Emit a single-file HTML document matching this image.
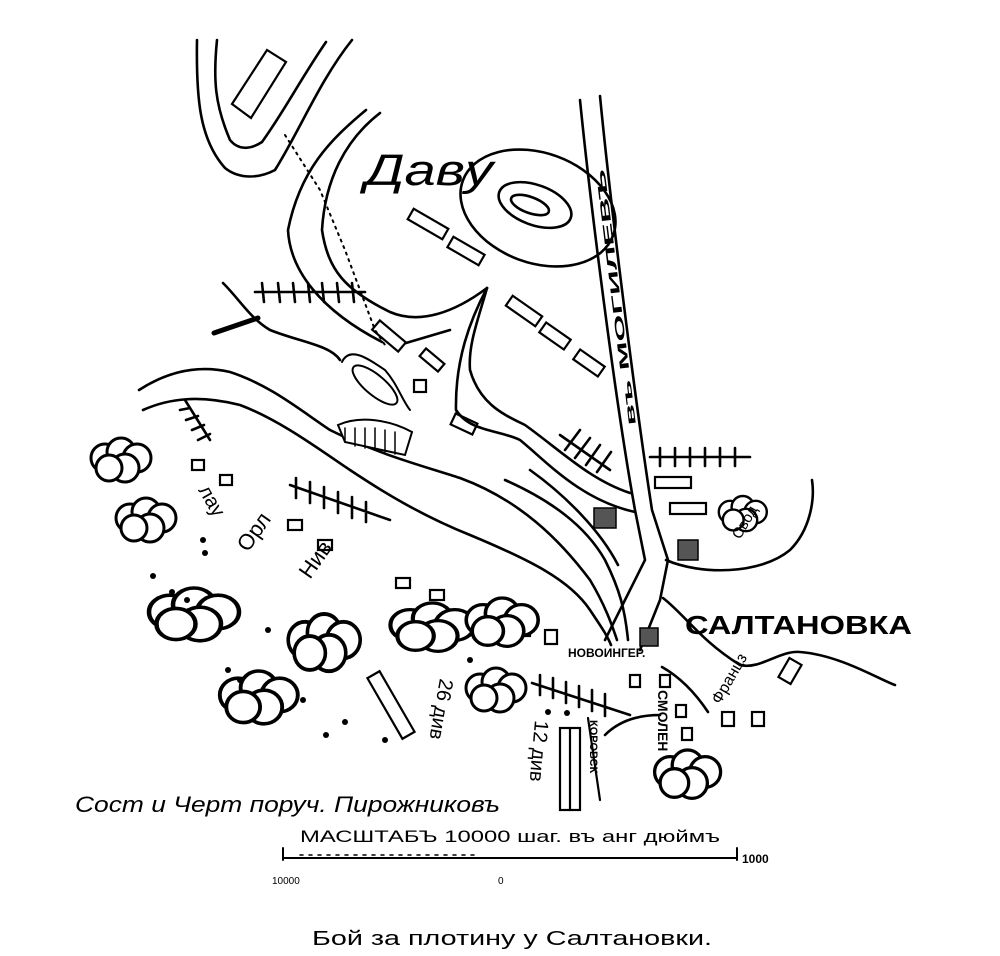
<!DOCTYPE html>
<html><head><meta charset="utf-8"><style>
html,body{margin:0;padding:0;background:#fff;}
svg{display:block}
text{font-family:"Liberation Sans",sans-serif;fill:#000}
</style></head><body>
<svg width="1000" height="956" viewBox="0 0 1000 956" xmlns="http://www.w3.org/2000/svg">
<defs>
<g id="c"><circle cx="0" cy="0" r="14"/><circle cx="16" cy="-6" r="14"/><circle cx="32" cy="0" r="14"/><circle cx="20" cy="10" r="14"/><circle cx="4" cy="10" r="13"/></g>
</defs>
<g fill="none" stroke="#000" stroke-width="2.6" stroke-linecap="round">
<path d="M197,40 C196,100 200,140 225,168 C240,180 260,178 275,170 C300,130 320,80 352,40"/>
<path d="M217,40 C213,80 215,105 230,140 C238,150 250,150 262,142 C285,110 300,80 326,42"/>
<polygon points="232,104 267,50 286,62 251,118" stroke-width="2.2"/>
<path d="M366,110 C330,140 300,170 288,230 C290,270 320,310 382,342"/>
<path d="M380,113 C345,140 325,180 322,230 C328,270 345,290 390,312 C420,325 455,312 487,288"/>
<path d="M487,288 C470,320 455,360 456,410 C470,432 500,430 520,440 C545,460 580,500 635,512"/>
<path d="M487,288 C478,320 468,345 470,370 C480,405 505,415 525,425 C560,450 590,480 630,493"/>
<path d="M406,343 L450,330"/>
<path d="M223,283 C240,300 250,318 270,330 C300,342 330,345 340,360" />
<path d="M214,333 L258,318" stroke-width="5"/>
<path d="M342,362 C350,345 370,360 385,370 C398,385 402,400 410,410" stroke-width="2"/>
<ellipse cx="375" cy="385" rx="28" ry="10" transform="rotate(40 375 385)" stroke-width="2"/>
<path d="M139,390 C170,370 200,365 230,372 C270,385 300,410 330,430 C380,455 420,465 460,478 C520,500 560,540 590,580 C605,605 612,625 617,640"/>
<path d="M143,410 C170,398 200,395 240,405 C280,420 320,450 350,470 C380,490 420,515 470,535 C530,560 570,580 590,610 C600,625 607,635 611,645"/>
<path d="M505,480 C550,500 585,525 605,560 C620,590 625,610 628,640"/>
<path d="M530,470 C565,495 600,530 618,565"/>
<path d="M580,100 C590,200 615,400 635,510 L645,560 L625,600 L605,640"/>
<path d="M600,96 C610,200 635,400 652,510 L668,560 L660,600 L640,650"/>
<ellipse cx="538" cy="208" rx="80" ry="55" transform="rotate(20 538 208)"/>
<ellipse cx="535" cy="205" rx="38" ry="20" transform="rotate(20 535 205)"/>
<ellipse cx="530" cy="205" rx="20" ry="8" transform="rotate(20 530 205)"/>
<path d="M666,560 C700,575 760,575 790,550 C810,530 815,500 812,480"/>
<path d="M663,598 C685,615 700,640 740,665 C760,670 780,650 800,652 C840,655 880,680 895,685"/>
<path d="M662,667 C685,680 700,700 708,712"/>
<path d="M605,735 C620,720 640,715 660,715"/>
<path d="M283,858 L737,858 M283,848 L283,860 M737,848 L737,860" stroke-width="2"/>
<path d="M300,855 L480,855" stroke-dasharray="3 6" stroke-width="1.5"/>
<g stroke-width="2.6">
<path d="M255,292 L365,292 M262,283 L264,302 M278,283 L280,302 M293,283 L295,302 M308,283 L310,302 M322,283 L324,302 M337,283 L339,302 M352,283 L354,302"/>
<path d="M290,485 L390,520 M296,478 L296,498 M310,482 L310,503 M324,487 L324,508 M338,492 L338,513 M352,497 L352,518 M366,502 L366,522"/>
<path d="M185,400 L210,440 M180,410 L190,408 M186,420 L198,416 M192,430 L204,425 M198,440 L210,434"/>
<path d="M560,435 L610,470 M565,450 L580,430 M575,458 L590,438 M586,465 L600,445 M597,472 L611,452"/>
<path d="M650,457 L750,457 M660,448 L660,466 M675,448 L675,466 M690,448 L690,466 M705,448 L705,466 M720,448 L720,466 M735,448 L735,466"/>
<path d="M532,683 L630,715 M540,675 L540,695 M553,678 L553,698 M566,682 L566,703 M579,686 L579,707 M592,690 L592,711 M605,694 L605,716"/>
</g>
<g stroke-width="2.2">
<rect x="408" y="218" width="40" height="12" transform="rotate(30 428 224)"/>
<rect x="448" y="245" width="36" height="12" transform="rotate(30 466 251)"/>
<rect x="506" y="305" width="36" height="12" transform="rotate(35 524 311)"/>
<rect x="540" y="330" width="30" height="12" transform="rotate(35 555 336)"/>
<rect x="574" y="357" width="30" height="12" transform="rotate(35 589 363)"/>
<rect x="372" y="330" width="34" height="12" transform="rotate(40 389 336)"/>
<rect x="420" y="355" width="24" height="10" transform="rotate(40 432 360)"/>
<rect x="414" y="380" width="12" height="12"/>
<rect x="452" y="418" width="24" height="12" transform="rotate(25 464 424)"/>
<rect x="655" y="477" width="36" height="11"/>
<rect x="670" y="503" width="36" height="11"/>
<rect x="192" y="460" width="12" height="10"/><rect x="220" y="475" width="12" height="10"/>
<rect x="288" y="520" width="14" height="10"/><rect x="318" y="540" width="14" height="10"/>
<rect x="396" y="578" width="14" height="10"/><rect x="430" y="590" width="14" height="10"/>
<rect x="518" y="622" width="12" height="14"/><rect x="545" y="630" width="12" height="14"/>
<rect x="630" y="675" width="10" height="12"/><rect x="660" y="675" width="10" height="12"/>
<rect x="676" y="705" width="10" height="12"/><rect x="682" y="728" width="10" height="12"/>
<rect x="722" y="712" width="12" height="14"/><rect x="752" y="712" width="12" height="14"/>
<rect x="783" y="660" width="14" height="22" transform="rotate(30 790 671)"/>
<rect x="384" y="670" width="14" height="70" transform="rotate(-30 391 705)"/>
<rect x="560" y="728" width="20" height="82"/>
<path d="M570,728 L570,810"/>
<path d="M588,718 L600,800" />
</g>
<g stroke-width="1.5">
<rect x="594" y="508" width="22" height="20" fill="#555"/>
<rect x="678" y="540" width="20" height="20" fill="#555"/>
<rect x="640" y="628" width="18" height="18" fill="#555"/>
</g>
<path d="M338,425 C360,415 390,420 412,432 L405,455 L345,442 Z" stroke-width="2" fill="#fff"/>
<path d="M345,428 L345,442 M355,428 L355,446 M365,428 L365,448 M375,428 L375,450 M385,430 L385,452 M395,432 L395,454" stroke-width="1.5"/>
<path d="M285,135 L320,190 L345,250 L375,330 L385,345" stroke-dasharray="2 5" stroke-width="2"/>
</g>
<g fill="#fff" stroke="#000" stroke-width="3">
<use href="#c" transform="translate(105,458)"/>
<use href="#c" transform="translate(130,518)"/>
<use href="#c" transform="translate(170,612) scale(1.5,1.2)"/>
<use href="#c" transform="translate(238,695) scale(1.3,1.2)"/>
<use href="#c" transform="translate(305,640) scale(1.2,1.3)"/>
<use href="#c" transform="translate(410,625) scale(1.4,1.1)"/>
<use href="#c" transform="translate(483,620) scale(1.2,1.1)"/>
<use href="#c" transform="translate(480,688)"/>
<use href="#c" transform="translate(670,772) scale(1.1,1.1)"/>
<use href="#c" transform="translate(730,512) scale(0.8,0.8)"/>
</g>
<g fill="#000">
<circle cx="203" cy="540" r="3"/><circle cx="205" cy="553" r="3"/><circle cx="153" cy="576" r="3"/>
<circle cx="172" cy="592" r="3"/><circle cx="187" cy="600" r="3"/><circle cx="268" cy="630" r="3"/>
<circle cx="228" cy="670" r="3"/><circle cx="240" cy="680" r="3"/><circle cx="303" cy="700" r="3"/>
<circle cx="326" cy="735" r="3"/><circle cx="345" cy="722" r="3"/><circle cx="385" cy="740" r="3"/>
<circle cx="567" cy="713" r="3"/><circle cx="548" cy="712" r="3"/><circle cx="470" cy="660" r="3"/>
</g>
<text x="365" y="185" font-family="Liberation Serif" font-style="italic" font-size="44" textLength="128" lengthAdjust="spacingAndGlyphs">Давy</text>
<text x="685" y="634" font-size="26" font-weight="bold" textLength="227" lengthAdjust="spacingAndGlyphs">САЛТАНОВКА</text>
<text x="75" y="812" font-size="22" font-style="italic" textLength="425" lengthAdjust="spacingAndGlyphs">Сост и Черт поруч. Пирожниковъ</text>
<text x="300" y="842" font-size="17" textLength="420" lengthAdjust="spacingAndGlyphs">МАСШТАБЪ 10000 шаг.  въ  анг дюймъ</text>
<text x="272" y="884" font-size="10">10000</text>
<text x="498" y="884" font-size="10">0</text>
<text x="742" y="863" font-size="12" font-weight="bold">1000</text>
<text x="312" y="945" font-family="Liberation Serif" font-size="20" textLength="400" lengthAdjust="spacingAndGlyphs">Бой за плотину у Салтановки.</text>
<text x="568" y="657" font-size="12" font-weight="bold">НОВОИНГЕР.</text>
<text font-size="13" font-weight="bold" textLength="258" lengthAdjust="spacingAndGlyphs" transform="translate(636,425) rotate(-97)">въ МОГИЛЕВЪ</text>
<text font-size="20" transform="translate(198,490) rotate(60)">лау</text>
<text font-size="22" transform="translate(248,553) rotate(-55)">Орл</text>
<text font-size="22" transform="translate(310,580) rotate(-55)">Нив</text>
<text font-size="20" transform="translate(440,678) rotate(100)">26 див</text>
<text font-size="20" transform="translate(535,720) rotate(95)">12 див</text>
<text font-size="11" font-weight="bold" transform="translate(590,720) rotate(90)">КОРОВСК</text>
<text font-size="14" font-weight="bold" transform="translate(658,690) rotate(90)">СМОЛЕН</text>
<text font-size="16" transform="translate(720,705) rotate(-60)">Францз</text>
<text font-size="15" transform="translate(740,540) rotate(-60)">Свод</text>
</svg>
</body></html>
